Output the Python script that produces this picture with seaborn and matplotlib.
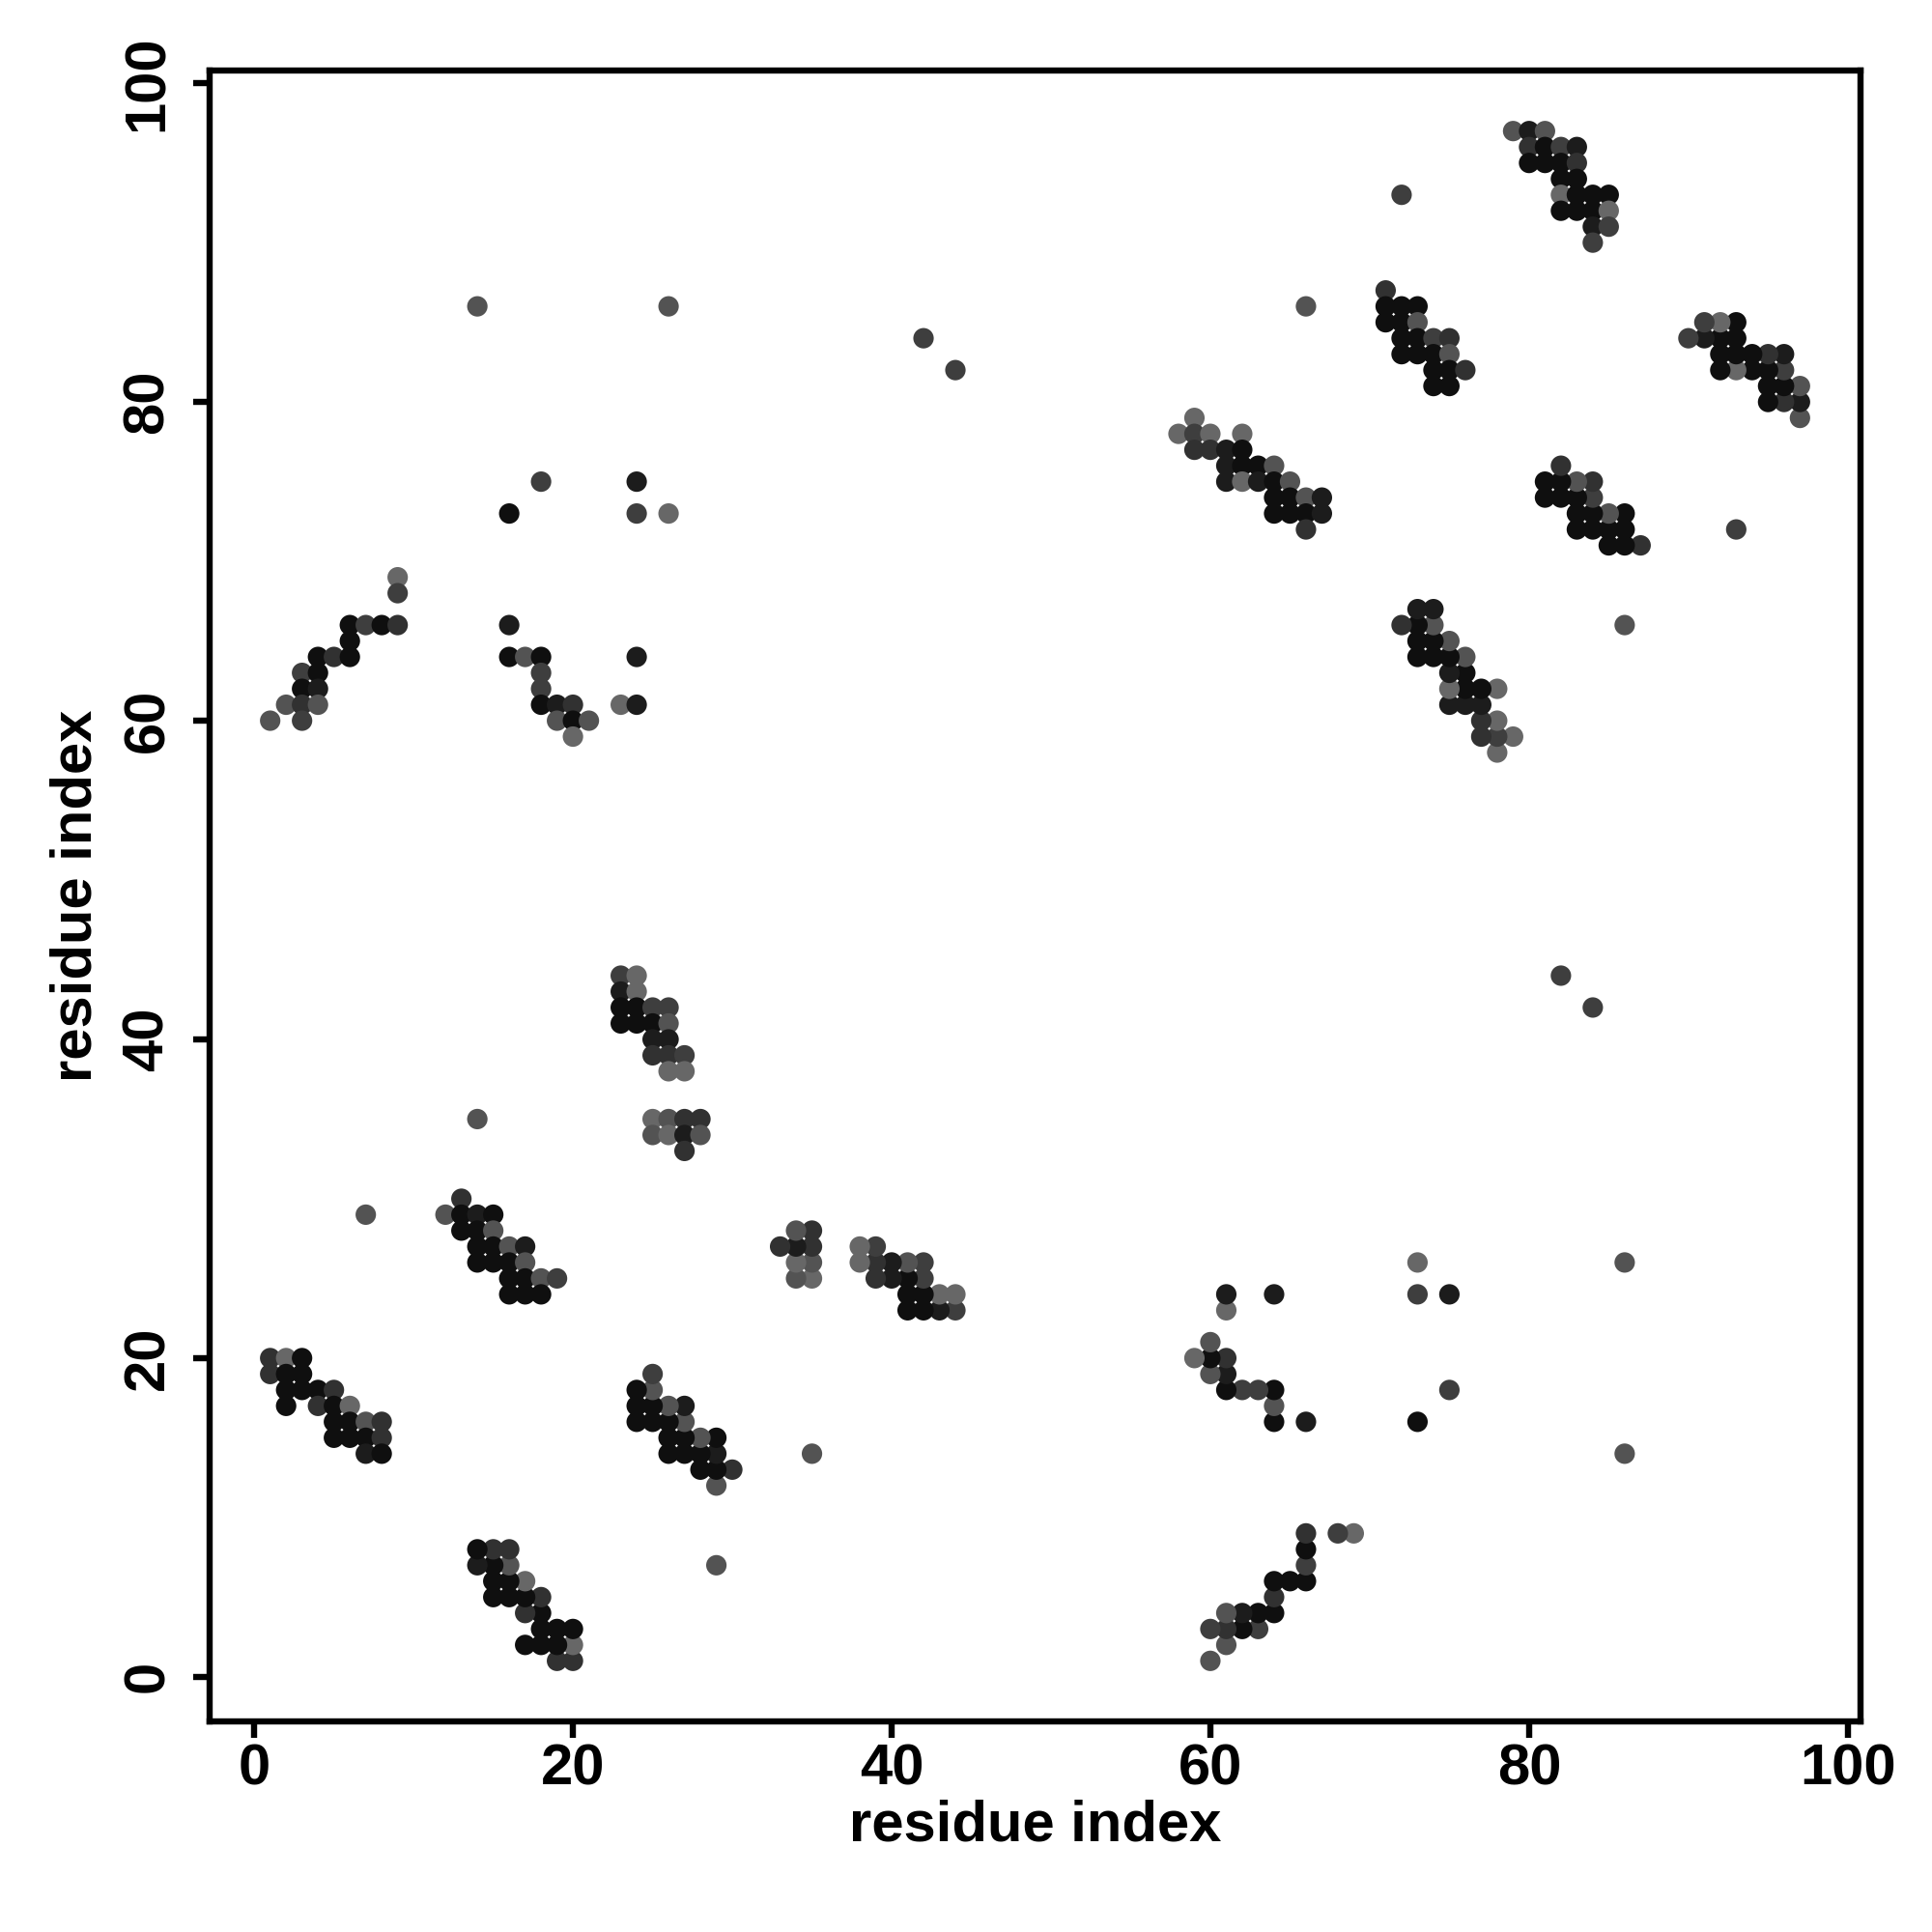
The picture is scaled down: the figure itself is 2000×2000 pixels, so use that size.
import pandas as pd
import matplotlib
matplotlib.use("Agg")
import matplotlib.pyplot as plt
from matplotlib.colors import LinearSegmentedColormap
import seaborn as sns

sns.set_style("ticks")
plt.rcParams['font.family'] = ['Liberation Sans', 'DejaVu Sans']
plt.rcParams['font.weight'] = 'bold'

# contact map data: one triangle (res_i < res_j), mirrored below
# prob is the predicted contact probability (darker = higher)
res_i = [
    # block near (1-8, 14-20)
    1, 2, 3, 1, 2, 3, 2, 3, 4, 5, 2, 4, 5, 6, 5, 6, 7, 8, 5, 6, 7, 8, 7, 8,
    # block near (12-19, 24-30)
    13, 12, 13, 14, 15, 13, 14, 15, 14, 15, 16, 17, 14, 15, 16, 17, 16, 17, 18, 19, 16, 17, 18,
    # block near (23-28, 33-44)
    23, 24, 23, 24, 23, 24, 25, 26, 23, 24, 25, 26, 25, 26, 25, 26, 27, 26, 27,
    25, 26, 27, 28, 25, 26, 27, 28, 27,
    # block near (1-9, 60-69)
    9, 9, 6, 7, 8, 9, 6, 4, 5, 6, 3, 4, 3, 4, 2, 3, 4, 1, 3,
    # block near (14-26, 59-86)
    14, 26, 18, 24, 16, 24, 26, 16, 16, 17, 18, 24, 18, 18, 18, 19, 20, 23, 24, 19, 20, 21, 20,
    # block near (58-67, 72-79)
    59, 58, 59, 60, 62, 59, 60, 61, 62, 61, 62, 63, 64, 61, 62, 63, 64, 65,
    64, 65, 66, 67, 64, 65, 66, 67, 66,
    # block near (71-76, 81-87)
    71, 71, 72, 73, 71, 72, 73, 72, 73, 74, 75, 72, 73, 74, 75, 74, 75, 76, 74, 75,
    # block near (79-85, 90-97)
    79, 80, 81, 80, 81, 82, 83, 80, 81, 82, 83, 82, 83, 82, 83, 84, 85, 82, 83, 84, 85, 84, 85, 84,
    # isolated contacts
    42, 44, 66, 72, 7, 14,
]
res_j = [
    20, 20, 20, 19, 19, 19, 18, 18, 18, 18, 17, 17, 17, 17, 16, 16, 16, 16, 15, 15, 15, 15, 14, 14,
    30, 29, 29, 29, 29, 28, 28, 28, 27, 27, 27, 27, 26, 26, 26, 26, 25, 25, 25, 25, 24, 24, 24,
    44, 44, 43, 43, 42, 42, 42, 42, 41, 41, 41, 41, 40, 40, 39, 39, 39, 38, 38,
    35, 35, 35, 35, 34, 34, 34, 34, 33,
    69, 68, 66, 66, 66, 66, 65, 64, 64, 64, 63, 63, 62, 62, 61, 61, 61, 60, 60,
    86, 86, 75, 75, 73, 73, 73, 66, 64, 64, 64, 64, 63, 62, 61, 61, 61, 61, 61, 60, 60, 60, 59,
    79, 78, 78, 78, 78, 77, 77, 77, 77, 76, 76, 76, 76, 75, 75, 75, 75, 75,
    74, 74, 74, 74, 73, 73, 73, 73, 72,
    87, 86, 86, 86, 85, 85, 85, 84, 84, 84, 84, 83, 83, 83, 83, 82, 82, 82, 81, 81,
    97, 97, 97, 96, 96, 96, 96, 95, 95, 95, 95, 94, 94, 93, 93, 93, 93, 92, 92, 92, 92, 91, 91, 90,
    84, 82, 86, 93, 29, 35,
]
prob = [
    0.70, 0.30, 0.95, 0.70, 0.95, 0.95, 0.95, 0.95, 0.95, 0.70, 0.95, 0.70, 0.95, 0.30,
    0.95, 0.95, 0.45, 0.70, 0.95, 0.95, 0.95, 0.70, 0.85, 0.95,
    0.70, 0.45, 0.95, 0.85, 0.95, 0.95, 0.95, 0.45, 0.95, 0.95, 0.45, 0.85, 0.95, 0.95, 0.95, 0.45,
    0.95, 0.95, 0.45, 0.60, 0.95, 0.95, 0.95,
    0.60, 0.30, 0.85, 0.30, 0.95, 0.95, 0.60, 0.60, 0.95, 0.95, 0.95, 0.45, 0.85, 0.85,
    0.70, 0.70, 0.60, 0.30, 0.30,
    0.30, 0.45, 0.70, 0.70, 0.45, 0.30, 0.85, 0.45, 0.70,
    0.30, 0.60, 0.95, 0.60, 0.95, 0.70, 0.95, 0.95, 0.70, 0.95, 0.60, 0.95, 0.95, 0.85,
    0.45, 0.70, 0.45, 0.45, 0.60,
    0.45, 0.45, 0.60, 0.85, 0.95, 0.60, 0.30, 0.85, 0.95, 0.45, 0.95, 0.85, 0.60, 0.60,
    0.95, 0.85, 0.70, 0.30, 0.85, 0.45, 0.95, 0.45, 0.30,
    0.30, 0.30, 0.60, 0.30, 0.30, 0.70, 0.70, 0.85, 0.95, 0.85, 0.95, 0.95, 0.45,
    0.85, 0.30, 0.85, 0.95, 0.45, 0.95, 0.95, 0.45, 0.85, 0.95, 0.95, 0.95, 0.85, 0.70,
    0.70, 0.95, 0.95, 0.95, 0.95, 0.95, 0.45, 0.95, 0.95, 0.60, 0.70, 0.95, 0.95, 0.95, 0.45,
    0.95, 0.95, 0.70, 0.95, 0.95,
    0.45, 0.85, 0.45, 0.70, 0.95, 0.60, 0.85, 0.95, 0.95, 0.95, 0.70, 0.95, 0.95,
    0.30, 0.95, 0.95, 0.95, 0.95, 0.95, 0.95, 0.30, 0.85, 0.60, 0.60,
    0.60, 0.60, 0.45, 0.60, 0.45, 0.45,
]

upper = pd.DataFrame({'i': res_i, 'j': res_j, 'prob': prob})
lower = upper.rename(columns={'i': 'j', 'j': 'i'})
contacts = pd.concat([upper, lower], ignore_index=True)

grey = LinearSegmentedColormap.from_list('grey', ['#6e6e6e', '#080808'])

fig = plt.figure(figsize=(10, 10), dpi=200)
ax = fig.add_axes([0.1085, 0.109, 0.8545, 0.8545])

sns.scatterplot(data=contacts, x='i', y='j', hue='prob', palette=grey,
                hue_norm=(0.25, 1.0), s=58, linewidth=0, legend=False, ax=ax)

ax.set_xlim(-2.8, 100.8)
ax.set_ylim(-2.8, 100.8)
ax.set_xticks([0, 20, 40, 60, 80, 100])
ax.set_yticks([0, 20, 40, 60, 80, 100])

for side in ['left', 'right', 'top', 'bottom']:
    ax.spines[side].set_visible(True)
    ax.spines[side].set_linewidth(2.3)
    ax.spines[side].set_color('black')

ax.tick_params(axis='both', length=6, width=2.3, labelsize=21.5,
               colors='black', labelcolor='black')
ax.tick_params(axis='x', pad=2)
ax.tick_params(axis='y', pad=7)
for lab in ax.get_yticklabels():
    lab.set_rotation(90)
    lab.set_va('center')
    lab.set_fontweight('bold')
for lab in ax.get_xticklabels():
    lab.set_fontweight('bold')

ax.set_xlabel('residue index', fontsize=21.5, fontweight='bold', va='center', color='black')
ax.set_ylabel('residue index', fontsize=21.5, fontweight='bold', va='center', color='black')
ax.xaxis.set_label_coords(0.5, -0.0632)
ax.yaxis.set_label_coords(-0.0807, 0.5)

fig.savefig('out.png', dpi=200, facecolor='white')
